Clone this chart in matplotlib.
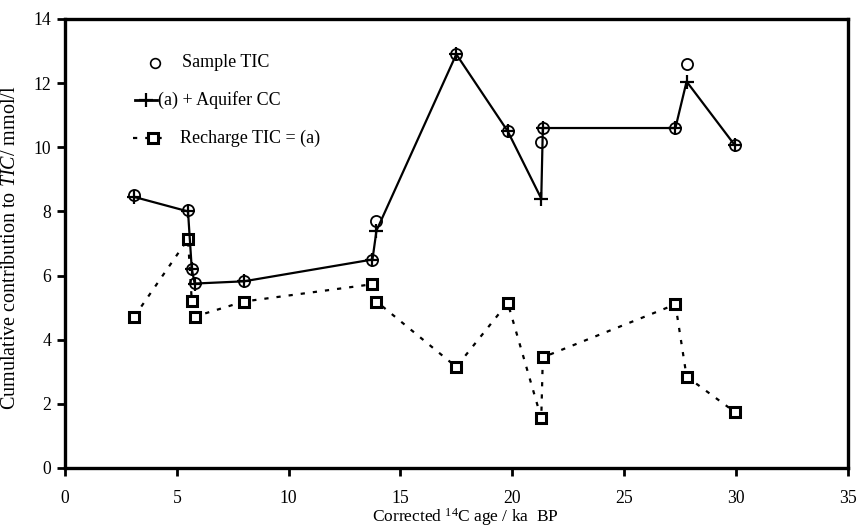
import matplotlib
matplotlib.use("Agg")
import matplotlib.pyplot as plt
from matplotlib.lines import Line2D

plt.rcParams['font.family'] = ['Liberation Serif', 'DejaVu Serif']
plt.rcParams['mathtext.fontset'] = 'custom'
plt.rcParams['mathtext.rm'] = 'Liberation Serif'
plt.rcParams['mathtext.it'] = 'Liberation Serif:italic'

age = [3.1, 5.5, 5.67, 5.8, 8.0, 13.75, 13.93, 17.5, 19.8, 21.3, 21.37, 27.3, 27.8, 29.95]
sample_tic = [8.5, 8.05, 6.2, 5.77, 5.83, 6.5, 7.7, 12.9, 10.5, 10.15, 10.6, 10.6, 12.6, 10.07]
aquifer_cc = [8.45, 8.0, 6.2, 5.75, 5.82, 6.5, 7.4, 12.9, 10.5, 8.4, 10.6, 10.6, 12.05, 10.07]
recharge_tic = [4.72, 7.14, 5.2, 4.72, 5.19, 5.73, 5.19, 3.15, 5.15, 1.55, 3.45, 5.1, 2.85, 1.75]
labels = ['Sample TIC', '(a) + Aquifer CC', 'Recharge TIC = (a)']

DASH = (1.9, 3.6)

fig = plt.figure(figsize=(8.59, 5.27), dpi=100)
ax = fig.add_axes([0.0757, 0.112, 0.911, 0.852])

ax.plot(age, recharge_tic, color='black', lw=1.6, dashes=DASH,
        marker='s', ms=7, mfc='white', mec='black', mew=2.2, zorder=2)
ax.plot(age, aquifer_cc, color='black', lw=1.6, marker='+', ms=10, mew=1.6, zorder=3)
ax.plot(age, sample_tic, ls='none', marker='o', ms=8, mfc='none', mec='black', mew=1.3, zorder=4)

ax.set_xlim(0, 35)
ax.set_ylim(0, 14)
ax.set_xticks(range(0, 36, 5))
ax.set_yticks(range(0, 15, 2))
for s in ax.spines.values():
    s.set_linewidth(2.4)
ax.tick_params(direction='out', length=6, width=2, labelsize=12.7)
ax.tick_params(axis='x', pad=10)
ax.tick_params(axis='y', pad=4)

ax.set_xlabel('Corrected $^{14}$C age / ka  BP', fontsize=12.5)
ax.xaxis.set_label_coords(0.511, -0.085)
ax.set_ylabel('Cumulative contribution to $\\mathit{TIC}$/ mmol/l', fontsize=14.5)
ax.yaxis.set_label_coords(-0.057, 0.49)

# legend (drawn manually to mimic the original layout)
tr = ax.transAxes
ax.add_line(Line2D([0.115], [0.902], ls='none', marker='o', ms=7, mfc='none',
                   mec='black', mew=1.2, transform=tr, clip_on=False))
ax.text(0.149, 0.902, labels[0], transform=tr, fontsize=13, va='center', ha='left')
ax.add_line(Line2D([0.0894, 0.1175], [0.820, 0.820], color='black', lw=2.0, transform=tr,
                   clip_on=False))
ax.add_line(Line2D([0.1034], [0.820], ls='none', marker='+', ms=10, mew=1.6, color='black',
                   transform=tr, clip_on=False))
ax.text(0.119, 0.820, labels[1], transform=tr, fontsize=13, va='center', ha='left')
ax.add_line(Line2D([0.0868, 0.125], [0.735, 0.735], color='black', lw=1.6, dashes=DASH,
                   transform=tr, clip_on=False))
ax.add_line(Line2D([0.1125], [0.735], ls='none', marker='s', ms=7, mfc='white', mec='black',
                   mew=2.2, transform=tr, clip_on=False))
ax.text(0.147, 0.735, labels[2], transform=tr, fontsize=13, va='center', ha='left')

fig.savefig('out.png', dpi=100)
